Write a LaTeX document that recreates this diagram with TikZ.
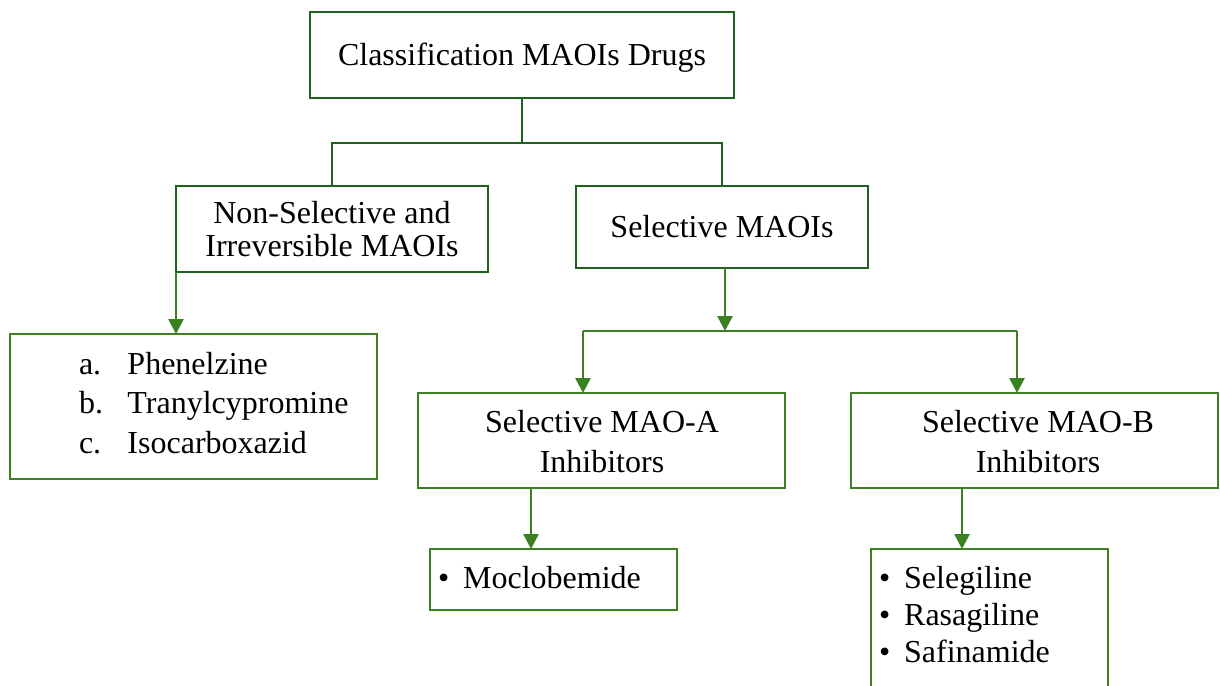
\documentclass[tikz,border=0pt]{standalone}
\usepackage{fontspec}
\setmainfont{Liberation Serif}
\usetikzlibrary{arrows.meta}
\definecolor{dkgreen}{RGB}{30,98,30}
\definecolor{ltgreen}{RGB}{60,128,36}
\begin{document}
\begin{tikzpicture}[x=1pt,y=-1pt,
  dkbox/.style={draw=dkgreen,line width=2.8pt,anchor=north west,inner sep=0pt,outer sep=0pt},
  ltbox/.style={draw=ltgreen,line width=2.6pt,anchor=north west,inner sep=0pt,outer sep=0pt},
  txt/.style={inner sep=0pt,outer sep=0pt,align=center},
  dkline/.style={draw=dkgreen,line width=2.8pt},
  ltline/.style={draw=ltgreen,line width=2.6pt},
  arr/.style={draw=ltgreen,line width=2.6pt,-{Triangle[width=15pt,length=15pt]}}]
\useasboundingbox (0,0) rectangle (1220,685);
\fill[white] (0,0) rectangle (1220,685);
\clip (0,0) rectangle (1220,685);

% boxes
\node[dkbox,minimum width=424pt,minimum height=86pt] (top) at (310,12) {};
\node[dkbox,minimum width=312pt,minimum height=86pt] (ns) at (176,186) {};
\node[dkbox,minimum width=292pt,minimum height=82pt] (sel) at (576,186) {};
\node[ltbox,minimum width=367pt,minimum height=145pt] (list) at (10,334) {};
\node[ltbox,minimum width=367pt,minimum height=95pt] (maoa) at (418,393) {};
\node[ltbox,minimum width=367pt,minimum height=95pt] (maob) at (851,393) {};
\node[ltbox,minimum width=247pt,minimum height=61pt] (moc) at (430,549) {};
\node[ltbox,minimum width=237pt,minimum height=180pt] (sele) at (871,549) {};

% texts
\node[txt,font=\fontsize{32}{36}\selectfont,text depth=0pt] (ttop) at (522,54) {Classification MAOIs Drugs};
\node[txt,font=\fontsize{32}{33}\selectfont] (tns) at (332,229.5) {Non-Selective and\\Irreversible MAOIs};
\node[txt,font=\fontsize{32}{36}\selectfont] (tsel) at (722,227) {Selective MAOIs};
\node[txt,anchor=base west,font=\fontsize{32}{39.5}\selectfont] (tlist) at (79,374)
  {\begin{tabular}[t]{@{}l@{\hspace{24.5pt}}l@{}}a. & Phenelzine\\ b. & Tranylcypromine\\ c. & Isocarboxazid\end{tabular}};
\node[txt,font=\fontsize{32}{40}\selectfont] (tmaoa) at (602,442) {Selective MAO-A\\Inhibitors};
\node[txt,font=\fontsize{32}{40}\selectfont] (tmaob) at (1038,442) {Selective MAO-B\\Inhibitors};
\node[txt,anchor=base west,font=\fontsize{32}{37}\selectfont] (tmoc) at (438,588) {\textbullet\hspace{14pt}Moclobemide};
\node[txt,anchor=base west,font=\fontsize{32}{37}\selectfont] (tsele) at (879,588)
  {\begin{tabular}[t]{@{}l@{}}\textbullet\hspace{14pt}Selegiline\\ \textbullet\hspace{14pt}Rasagiline\\ \textbullet\hspace{14pt}Safinamide\end{tabular}};

% junctions
\coordinate (j1) at (522,143);
\coordinate (j2) at (725,331);
\coordinate (ja) at (583,331);
\coordinate (jb) at (1017,331);
\coordinate (ax) at (531,520);
\coordinate (bx) at (962,520);

% connectors
\draw[dkline] (top.south -| j1) -- (j1);
\draw[dkline] (ns.north) |- (j1) -| (sel.north);
\draw[arr] (ns.south west) -- (ns.south west |- list.north);
\draw[arr] (j2 |- sel.south) -- (j2);
\draw[ltline] (ja) -- (jb);
\draw[arr] (ja) -- (ja |- maoa.north);
\draw[arr] (jb) -- (jb |- maob.north);
\draw[arr] (ax |- maoa.south) -- (ax |- moc.north);
\draw[arr] (bx |- maob.south) -- (bx |- sele.north);
\end{tikzpicture}
\end{document}
